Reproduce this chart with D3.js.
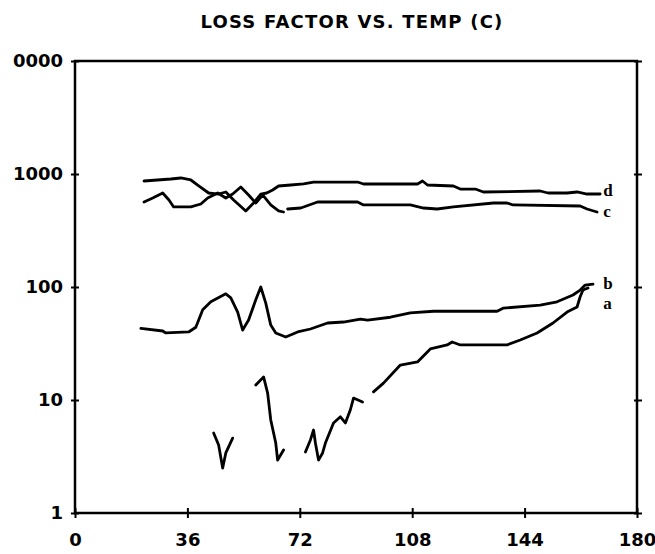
<!DOCTYPE html>
<html>
<head>
<meta charset="utf-8">
<script src="https://d3js.org/d3.v7.min.js"></script>
<style>
  body { margin: 0; background: #fff; }
  svg { display: block; }
  .tick text { font-family: "DejaVu Sans", sans-serif; font-weight: bold; font-size: 18px; fill: #000; }
</style>
</head>
<body>
<div id="chart"></div>
<script>

// x ticks and y tick labels (the top one is cut off in the scan)
var xTicks = [0, 36, 72, 108, 144, 180]
var yTicks = [1, 10, 100, 1000, 10000]
var yLabels = ["1", "10", "100", "1000", "0000"]

// curves, [temp, loss factor]
var curveD = [[22.1,867],[30.7,903],[33.9,922],[37.1,885],[39.3,799],[42.8,679],[46.0,665],[48.3,693],
  [50.8,589],[54.7,471],[57.2,554],[59.5,665],[61.4,679],[63.3,722],[65.2,783],[69.1,799],[73.2,816],
  [76.4,849],[90.5,849],[92.4,816],[101.0,816],[109.7,816],[111.3,867],[112.9,799],[121.2,783],
  [123.4,736],[128.2,736],[130.8,693],[149.0,707],[151.5,679],[157.6,679],[160.8,693],[164.0,665],[168.2,665]]

var curveC1 = [[22.1,565],[24.9,613],[28.1,679],[30.1,589],[31.6,511],[37.1,511],[40.3,543],[42.5,613],
  [45.7,679],[48.3,613],[50.5,665],[53.1,767],[55.6,652],[57.9,554],[60.1,652],[62.7,532],[65.2,471],[66.8,461]]
var curveC2 = [[68.1,490],[72.3,500],[77.7,565],[90.5,565],[92.4,532],[101.0,532],[107.4,532],[111.6,500],
  [116.0,490],[121.2,511],[134.0,554],[138.4,554],[140.3,532],[161.8,521],[164.0,490],[167.2,461]]

var curveB = [[21.1,43],[28.1,40.8],[29.1,39.2],[36.4,40],[38.7,44],[40.9,63],[43.5,74],[48.3,87],[49.9,80],
  [52.1,60],[53.7,41.6],[55.6,51],[57.9,77],[59.5,100],[61.1,72],[62.7,46],[64.3,39.2],[67.5,36.1],
  [71.3,40],[75.4,42.5],[80.9,48],[86.0,49],[91.4,52],[93.7,51],[101.0,54],[107.4,59],[114.8,61],
  [135.2,61],[137.1,65],[149.0,69],[154.4,74],[159.5,85],[161.8,94],[163.4,104],[165.9,106]]

var curveA1 = [[44.4,5.1],[46.0,4.0],[47.3,2.5],[48.3,3.4],[50.5,4.6]]
var curveA2 = [[57.9,13.6],[60.4,16.0],[61.7,11.5],[62.7,6.65],[64.3,4.16],[64.9,2.94],[66.8,3.61]]
var curveA3 = [[73.8,3.47],[75.4,4.43],[76.4,5.43],[77.0,4.16],[78.0,2.94],[79.3,3.40],[80.2,4.16],
  [82.8,6.26],[85.0,7.1],[86.6,6.26],[88.2,8.2],[89.2,10.4],[92.1,9.6]]
var curveA4 = [[95.6,11.8],[98.8,14.1],[104.2,20.4],[109.7,21.7],[113.8,28.3],[119.2,30.7],[120.8,32.6],
  [123.4,30.7],[138.4,30.7],[142.6,34],[148.0,39.2],[153.1,48],[157.6,60],[160.8,66.5],[161.8,82],
  [162.7,94],[164.3,98]]

var curveLabels = [["d", 169.2, 720], ["c", 169.2, 470], ["b", 169.2, 108], ["a", 169.2, 72]]

var width = 655, height = 554
var mLeft = 75, mRight = 637, mTop = 61, mBottom = 513

var svg = d3.select("#chart").append("svg")
  .attr("width", width)
  .attr("height", height)

var x = d3.scaleLinear().domain([0, 180]).range([mLeft, mRight])
var y = d3.scaleLog().domain([1, 10000]).range([mBottom, mTop])

// title
svg.append("text")
  .attr("x", 352)
  .attr("y", 28)
  .attr("text-anchor", "middle")
  .style("font-family", "DejaVu Sans, sans-serif")
  .style("font-weight", "bold")
  .style("font-size", "18px")
  .style("letter-spacing", "1.2px")
  .text("LOSS FACTOR VS. TEMP (C)")

// bottom axis, ticks cross the line
var xAxis = svg.append("g")
  .attr("transform", "translate(0," + mBottom + ")")
  .call(d3.axisBottom(x).tickValues(xTicks).tickSize(5).tickPadding(15))
xAxis.selectAll(".tick line").attr("y1", -5).attr("stroke-width", 2)
xAxis.select(".domain").remove()

// left axis
var yAxis = svg.append("g")
  .attr("transform", "translate(" + mLeft + ",0)")
  .call(d3.axisLeft(y).tickValues(yTicks).tickFormat(function (d, i) { return yLabels[i] }).tickSize(4).tickPadding(8))
yAxis.selectAll(".tick line").attr("x1", 4).attr("stroke-width", 2)
yAxis.select(".domain").remove()

// right side ticks
var rAxis = svg.append("g")
  .attr("transform", "translate(" + mRight + ",0)")
  .call(d3.axisRight(y).tickValues(yTicks).tickFormat("").tickSize(5))
rAxis.selectAll(".tick line").attr("x1", -3).attr("stroke-width", 2)
rAxis.select(".domain").remove()

// frame
svg.append("rect")
  .attr("x", mLeft)
  .attr("y", mTop)
  .attr("width", mRight - mLeft)
  .attr("height", mBottom - mTop)
  .attr("fill", "none")
  .attr("stroke", "#000")
  .attr("stroke-width", 2.5)

var line = d3.line()
  .x(function (d) { return x(d[0]) })
  .y(function (d) { return y(d[1]) })
  .curve(d3.curveLinear)

var curves = [curveD, curveC1, curveC2, curveB, curveA1, curveA2, curveA3, curveA4]
svg.selectAll(".curve")
  .data(curves)
  .enter()
  .append("path")
    .attr("class", "curve")
    .attr("d", line)
    .attr("fill", "none")
    .attr("stroke", "#000")
    .attr("stroke-width", 2.8)
    .attr("stroke-linejoin", "round")
    .attr("stroke-linecap", "round")

// curve letters
svg.selectAll(".lab")
  .data(curveLabels)
  .enter()
  .append("text")
    .attr("class", "lab")
    .attr("x", function (d) { return x(d[1]) })
    .attr("y", function (d) { return y(d[2]) })
    .attr("dy", "0.35em")
    .style("font-family", "Liberation Serif, Times New Roman, serif")
    .style("font-weight", "bold")
    .style("font-size", "17px")
    .text(function (d) { return d[0] })

</script>
</body>
</html>
